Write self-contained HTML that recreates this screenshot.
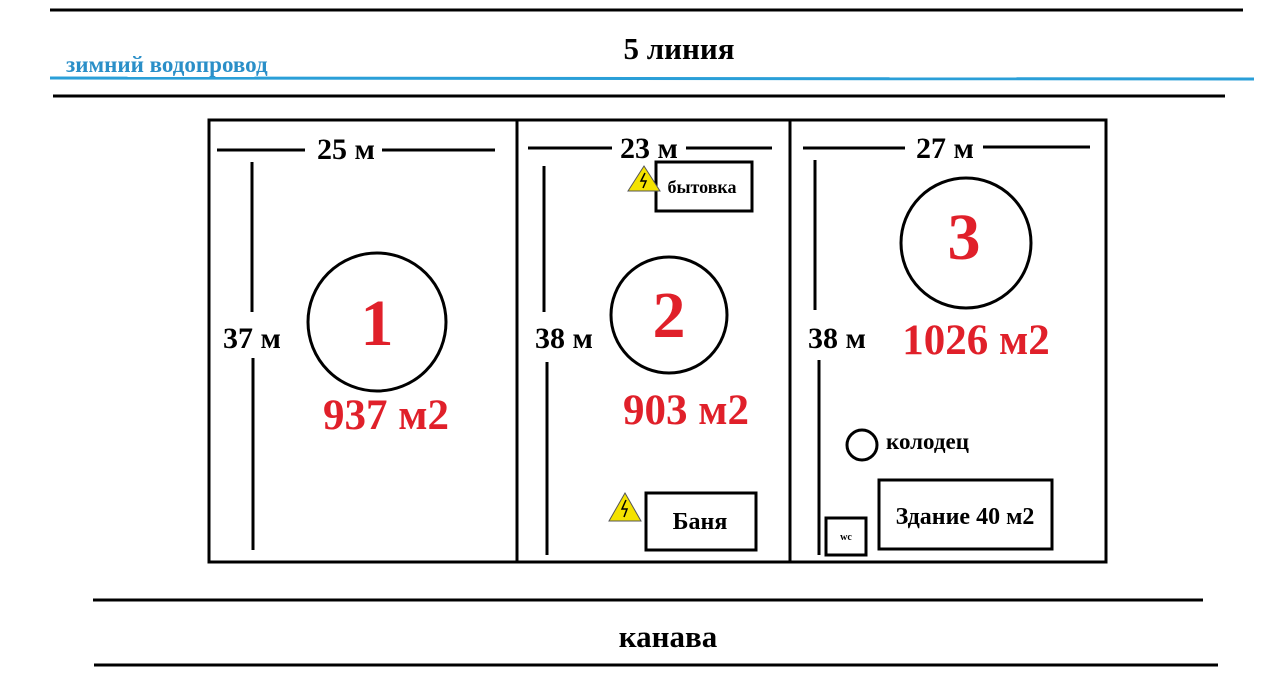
<!DOCTYPE html>
<html><head><meta charset="utf-8"><style>
html,body{margin:0;padding:0;background:#fff;}
svg{display:block;}
text{font-family:"Liberation Serif",serif;font-weight:bold;}
</style></head><body>
<svg width="1280" height="694" viewBox="0 0 1280 694" xmlns="http://www.w3.org/2000/svg">
<rect width="1280" height="694" fill="#fff"/>
<line x1="50" y1="10" x2="1243" y2="10" stroke="#000" stroke-width="3"/>
<text x="679" y="59" font-size="31" text-anchor="middle">5 линия</text>
<text x="66" y="72" font-size="23" fill="#2a8fc8">зимний водопровод</text>
<line x1="50" y1="78" x2="1254" y2="79" stroke="#2a9fd8" stroke-width="3"/>
<line x1="53" y1="96" x2="1225" y2="96" stroke="#000" stroke-width="3"/>

<rect x="209" y="120" width="897" height="442" fill="none" stroke="#000" stroke-width="3"/>
<line x1="517" y1="120" x2="517" y2="562" stroke="#000" stroke-width="3"/>
<line x1="790" y1="120" x2="790" y2="562" stroke="#000" stroke-width="3"/>

<!-- plot 1 -->
<line x1="217" y1="150" x2="305" y2="150" stroke="#000" stroke-width="3"/>
<line x1="382" y1="150" x2="495" y2="150" stroke="#000" stroke-width="3"/>
<text x="346" y="159" font-size="30" text-anchor="middle">25 м</text>
<line x1="252" y1="162" x2="252" y2="312" stroke="#000" stroke-width="3"/>
<line x1="253" y1="358" x2="253" y2="550" stroke="#000" stroke-width="3"/>
<text x="252" y="348" font-size="30" text-anchor="middle">37 м</text>
<circle cx="377" cy="322" r="69" fill="none" stroke="#000" stroke-width="3"/>
<text x="377" y="345" font-size="66" fill="#e0202a" text-anchor="middle">1</text>
<text x="386" y="429" font-size="43" fill="#e0202a" text-anchor="middle">937 м2</text>

<!-- plot 2 -->
<line x1="528" y1="148" x2="612" y2="148" stroke="#000" stroke-width="3"/>
<line x1="686" y1="148" x2="772" y2="148" stroke="#000" stroke-width="3"/>
<text x="649" y="158" font-size="30" text-anchor="middle">23 м</text>
<line x1="544" y1="166" x2="544" y2="312" stroke="#000" stroke-width="3"/>
<line x1="547" y1="362" x2="547" y2="555" stroke="#000" stroke-width="3"/>
<text x="564" y="348" font-size="30" text-anchor="middle">38 м</text>
<rect x="656" y="162" width="96" height="49" fill="none" stroke="#000" stroke-width="3"/>
<text x="702" y="193" font-size="18" text-anchor="middle">бытовка</text>
<polygon points="644,166 660,191 628,191" fill="#f4e200" stroke="#555" stroke-width="1"/>
<path d="M645,173 l-4,8 h5 l-3,7" fill="none" stroke="#000" stroke-width="1.5"/>
<circle cx="669" cy="315" r="58" fill="none" stroke="#000" stroke-width="3"/>
<text x="669" y="337" font-size="66" fill="#e0202a" text-anchor="middle">2</text>
<text x="686" y="424" font-size="43" fill="#e0202a" text-anchor="middle">903 м2</text>
<polygon points="625,493 641,521 609,521" fill="#f4e200" stroke="#555" stroke-width="1"/>
<path d="M626,500 l-4,9 h5 l-3,8" fill="none" stroke="#000" stroke-width="1.5"/>
<rect x="646" y="493" width="110" height="57" fill="none" stroke="#000" stroke-width="3"/>
<text x="700" y="529" font-size="24" text-anchor="middle">Баня</text>

<!-- plot 3 -->
<line x1="803" y1="148" x2="905" y2="148" stroke="#000" stroke-width="3"/>
<line x1="983" y1="147" x2="1090" y2="147" stroke="#000" stroke-width="3"/>
<text x="945" y="158" font-size="30" text-anchor="middle">27 м</text>
<line x1="815" y1="160" x2="815" y2="310" stroke="#000" stroke-width="3"/>
<line x1="819" y1="360" x2="819" y2="555" stroke="#000" stroke-width="3"/>
<text x="837" y="348" font-size="30" text-anchor="middle">38 м</text>
<circle cx="966" cy="243" r="65" fill="none" stroke="#000" stroke-width="3"/>
<text x="964" y="259" font-size="66" fill="#e0202a" text-anchor="middle">3</text>
<text x="976" y="354" font-size="43" fill="#e0202a" text-anchor="middle">1026 м2</text>
<circle cx="862" cy="445" r="15" fill="none" stroke="#000" stroke-width="3"/>
<text x="886" y="449" font-size="23">колодец</text>
<rect x="879" y="480" width="173" height="69" fill="none" stroke="#000" stroke-width="3"/>
<text x="965" y="524" font-size="24" text-anchor="middle">Здание 40 м2</text>
<rect x="826" y="518" width="40" height="37" fill="none" stroke="#000" stroke-width="3"/>
<text x="846" y="540" font-size="10" text-anchor="middle" font-weight="normal">wc</text>

<line x1="93" y1="600" x2="1203" y2="600" stroke="#000" stroke-width="3"/>
<text x="668" y="647" font-size="31" text-anchor="middle">канава</text>
<line x1="94" y1="665" x2="1218" y2="665" stroke="#000" stroke-width="3"/>
</svg>
</body></html>
